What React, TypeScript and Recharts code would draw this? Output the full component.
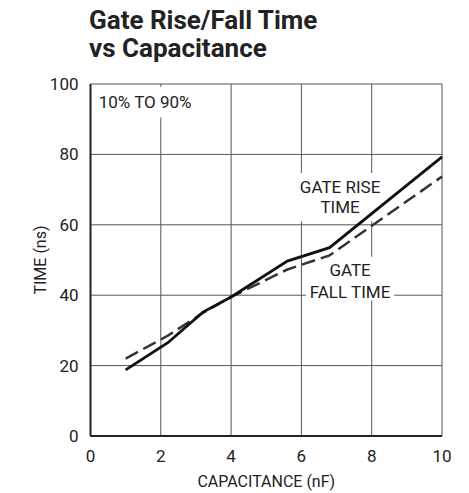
import React from 'react';
import { LineChart, Line, XAxis, YAxis, CartesianGrid, ReferenceArea } from 'recharts';

const capacitance = [1, 2.2, 3.2, 4, 5.6, 6.8, 10];
const riseTime = [18.8, 26.5, 35.2, 39.5, 49.7, 53.5, 79.3];
const fallTime = [22, 28.5, 35, 39.5, 47.3, 51.3, 73.7];
const xTicks = [0, 2, 4, 6, 8, 10];
const yTicks = [0, 20, 40, 60, 80, 100];

const data = capacitance.map((c, i) => ({ c, rise: riseTime[i], fall: fallTime[i] }));

const FONT = "'Liberation Sans Narrow', 'Roboto', 'Liberation Sans', sans-serif";

const MultiLabel = (lines: string[], offsets: number[], size: number, anchor: string = 'middle') => (props: any) => {
  const vb = props.viewBox || {};
  const cx = anchor === 'middle' ? vb.x + vb.width / 2 : vb.x + 4;
  const cy = vb.y + vb.height / 2;
  return (
    <text x={cx} y={cy} textAnchor={anchor} fontFamily={FONT} fontSize={size} fill="#222">
      {lines.map((l, i) => (
        <tspan key={i} x={cx} y={cy + offsets[i]} dominantBaseline="central">{l}</tspan>
      ))}
    </text>
  );
};

export default function App() {
  return (
    <div style={{ position: 'absolute', left: 0, top: 0, width: 469, height: 493, background: '#fff' }}>
      <div style={{ position: 'absolute', left: 89, top: 6, fontFamily: FONT, fontWeight: 'bold', fontSize: 26, lineHeight: '28px', color: '#222' }}>
        Gate Rise/Fall Time<br />vs Capacitance
      </div>
      <LineChart width={469} height={493} data={data} margin={{ top: 84, right: 27, bottom: 0, left: 0 }}>
        <CartesianGrid stroke="#555" strokeWidth={1} horizontalValues={yTicks} verticalValues={xTicks} />
        <XAxis
          dataKey="c"
          type="number"
          domain={[0, 10]}
          ticks={xTicks}
          height={57}
          tickLine={false}
          tickSize={0}
          tickMargin={14}
          axisLine={{ stroke: '#222', strokeWidth: 2 }}
          tick={{ fill: '#222', fontSize: 17, fontFamily: FONT }}
          label={{ value: 'CAPACITANCE (nF)', position: 'center', dy: 17, fill: '#222', fontSize: 16, fontFamily: FONT }}
        />
        <YAxis
          type="number"
          domain={[0, 100]}
          ticks={yTicks}
          width={90.5}
          tickLine={false}
          tickSize={0}
          tickMargin={12}
          axisLine={{ stroke: '#222', strokeWidth: 2 }}
          tick={{ fill: '#222', fontSize: 17, fontFamily: FONT }}
          label={{ value: 'TIME (ns)', angle: -90, position: 'center', dx: -5, fill: '#222', fontSize: 16, fontFamily: FONT }}
        />
        <ReferenceArea x1={10} x2={10} y1={0} y2={100} stroke="#222" strokeWidth={2} fill="none" ifOverflow="visible" />
        <ReferenceArea x1={0} x2={10} y1={100} y2={100} stroke="#222" strokeWidth={2} fill="none" ifOverflow="visible" />
        <ReferenceArea x1={0.12} x2={3} y1={90.5} y2={99.2} fill="#fff" fillOpacity={1} stroke="none"
          label={MultiLabel(['10% TO 90%'], [0], 17, 'start')} />
        <ReferenceArea x1={5.82} x2={8.38} y1={61} y2={74.7} fill="#fff" fillOpacity={1} stroke="none"
          label={MultiLabel(['GATE RISE', 'TIME'], [-10, 10], 17)} />
        <ReferenceArea x1={6.13} x2={8.64} y1={38.5} y2={50.9} fill="#fff" fillOpacity={1} stroke="none"
          label={MultiLabel(['GATE', 'FALL TIME'], [-9, 13], 17)} />
        <Line dataKey="fall" type="linear" stroke="#333" strokeWidth={2.5} strokeDasharray="14 6" dot={false} isAnimationActive={false} />
        <Line dataKey="rise" type="linear" stroke="#111" strokeWidth={2.8} dot={false} isAnimationActive={false} />
      </LineChart>
    </div>
  );
}
